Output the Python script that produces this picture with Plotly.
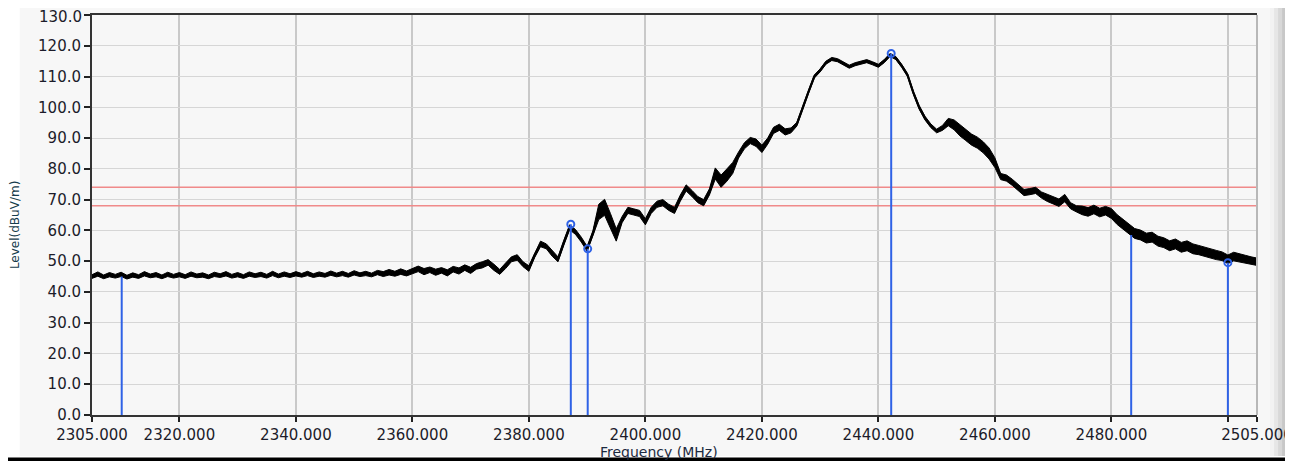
import plotly.graph_objects as go

# ---------------- data ----------------
freq_start = 2305
level = [
    45.0, 45.8, 44.9, 45.6, 45.1, 45.7, 44.8, 45.5, 45.0, 45.9,   # 2305-2314
    45.2, 45.6, 44.9, 45.7, 45.1, 45.6, 45.0, 45.8, 45.2, 45.5,   # 2315-2324
    44.9, 45.7, 45.3, 45.9, 45.1, 45.6, 45.0, 45.8, 45.3, 45.7,   # 2325-2334
    45.1, 46.0, 45.2, 45.8, 45.3, 45.9, 45.4, 46.0, 45.3, 45.8,   # 2335-2344
    45.4, 46.1, 45.5, 46.0, 45.4, 46.2, 45.6, 46.0, 45.5, 46.3,   # 2345-2354
    45.8, 46.4, 45.9, 46.6, 46.0, 46.8, 47.5, 46.6, 47.2, 46.4,   # 2355-2364
    47.0, 46.2, 47.4, 46.8, 47.9, 47.0, 48.3, 48.8, 49.6, 48.0,   # 2365-2374
    46.5, 48.5, 50.6, 51.2, 49.0, 47.6, 52.0, 55.6, 54.8, 52.5,   # 2375-2384
    50.6, 56.0, 61.0, 59.5, 57.0, 54.0, 59.0, 66.0, 67.5, 63.0,   # 2385-2394
    58.5, 63.5, 66.5, 66.0, 65.5, 62.8, 66.5, 68.5, 69.0, 67.5,   # 2395-2404
    66.5, 70.5, 73.8, 72.0, 70.0, 69.0, 72.5, 78.5, 76.0, 78.0,   # 2405-2414
    80.3, 84.5, 87.5, 89.2, 88.5, 86.5, 89.0, 92.5, 93.5, 92.0,   # 2415-2424
    92.5, 94.5, 100.0, 105.0, 110.0, 112.0, 114.5, 115.7, 115.3, 114.2,  # 2425-2434
    113.2, 114.0, 114.6, 115.0, 114.3, 113.5, 115.0, 117.0, 116.0, 113.5,  # 2435-2444
    110.5, 104.8, 100.0, 96.5, 94.0, 92.3, 93.3, 95.2, 94.3, 92.5,  # 2445-2454
    91.0, 89.5, 88.5, 87.0, 85.0, 82.0, 77.5, 77.0, 75.6, 74.0,   # 2455-2464
    72.3, 72.6, 73.0, 71.5, 70.6, 69.8, 69.0, 70.5, 68.0, 67.0,   # 2465-2474
    66.5, 66.0, 66.8, 65.8, 66.4, 65.5, 63.5, 62.0, 60.5, 59.0,   # 2475-2484
    58.5, 57.5, 57.8, 56.5, 56.0, 55.0, 55.6, 54.5, 55.0, 54.0,   # 2485-2494
    53.6, 53.0, 52.6, 52.0, 51.6, 50.6, 51.5, 51.0, 50.6, 50.2,   # 2495-2504
    49.8,                                                         # 2505
]
# half-width of the noise band (dB)
noise = [
    0.6, 0.7, 0.6, 0.7, 0.6, 0.7, 0.6, 0.7, 0.6, 0.7,   # 2305-2314
    0.6, 0.7, 0.6, 0.7, 0.6, 0.7, 0.6, 0.7, 0.6, 0.7,   # 2315-2324
    0.6, 0.7, 0.6, 0.7, 0.6, 0.7, 0.6, 0.7, 0.6, 0.7,   # 2325-2334
    0.6, 0.7, 0.6, 0.7, 0.6, 0.7, 0.6, 0.7, 0.6, 0.7,   # 2335-2344
    0.6, 0.7, 0.6, 0.7, 0.6, 0.7, 0.6, 0.7, 0.6, 0.7,   # 2345-2354
    0.8, 0.9, 0.8, 0.9, 0.8, 0.9, 0.9, 1.0, 0.9, 1.0,   # 2355-2364
    0.9, 1.0, 0.9, 1.0, 0.9, 1.0, 0.9, 1.0, 0.9, 1.0,   # 2365-2374
    0.8, 0.9, 0.8, 0.9, 0.8, 0.9, 0.8, 0.9, 0.8, 0.9,   # 2375-2384
    0.8, 0.8, 0.8, 0.8, 0.8, 0.8, 0.9, 2.5, 2.6, 2.5,   # 2385-2394
    2.0, 1.0, 1.0, 1.0, 1.0, 1.0, 1.0, 1.0, 1.0, 1.0,   # 2395-2404
    1.0, 1.0, 1.0, 1.0, 1.0, 1.0, 1.0, 1.8, 2.0, 2.0,   # 2405-2414
    1.8, 1.0, 1.0, 1.0, 1.2, 1.2, 1.0, 1.0, 1.0, 1.0,   # 2415-2424
    0.8, 0.6, 0.5, 0.5, 0.5, 0.5, 0.5, 0.5, 0.5, 0.5,   # 2425-2434
    0.5, 0.5, 0.5, 0.5, 0.5, 0.5, 0.5, 0.5, 0.5, 0.5,   # 2435-2444
    0.5, 0.5, 0.6, 0.6, 0.6, 0.6, 0.8, 1.2, 1.6, 1.8,   # 2445-2454
    1.8, 1.8, 1.8, 1.8, 1.8, 1.6, 1.0, 1.0, 1.0, 1.0,   # 2455-2464
    1.0, 1.0, 1.0, 1.0, 1.2, 1.2, 1.2, 1.2, 1.0, 1.0,   # 2465-2474
    1.4, 1.4, 1.4, 1.4, 1.4, 1.6, 1.6, 1.6, 1.6, 1.6,   # 2475-2484
    1.6, 1.6, 1.6, 1.6, 1.6, 1.6, 1.6, 1.6, 1.6, 1.6,   # 2485-2494
    1.5, 1.5, 1.5, 1.5, 1.4, 1.4, 1.4, 1.3, 1.3, 1.2,   # 2495-2504
    1.2,                                                # 2505
]
freq = [freq_start + i for i in range(len(level))]

marker_freq = [2310.1, 2387.2, 2390.1, 2442.2, 2483.4, 2500.0]
marker_level = [45.0, 62.0, 54.0, 117.5, 58.5, 49.5]
marker_circle = [False, True, True, True, False, True]

limit_levels = [74.0, 68.0]

x_tickvals = [2305, 2320, 2340, 2360, 2380, 2400, 2420, 2440, 2460, 2480, 2500, 2505]
x_ticktext = ["2305.000", "2320.000", "2340.000", "2360.000", "2380.000", "2400.000",
              "2420.000", "2440.000", "2460.000", "2480.000", "", "2505.000"]
y_tickvals = [0, 10, 20, 30, 40, 50, 60, 70, 80, 90, 100, 110, 120, 130]
y_ticktext = ["%.1f" % v for v in y_tickvals]

x_range = [2305, 2505]
y_range = [0, 130]

# ---------------- figure ----------------
fig = go.Figure()

for lv in limit_levels:
    fig.add_trace(go.Scatter(x=x_range, y=[lv, lv], mode="lines",
                             line=dict(color="#f08a8a", width=1.5),
                             hoverinfo="skip", showlegend=False))

upper = [l + n for l, n in zip(level, noise)]
lower = [l - n for l, n in zip(level, noise)]
fig.add_trace(go.Scatter(x=freq, y=lower, mode="lines",
                         line=dict(color="#000000", width=1),
                         hoverinfo="skip", showlegend=False))
fig.add_trace(go.Scatter(x=freq, y=upper, mode="lines", fill="tonexty",
                         fillcolor="#000000",
                         line=dict(color="#000000", width=1),
                         hoverinfo="skip", showlegend=False))
fig.add_trace(go.Scatter(x=freq, y=level, mode="lines",
                         line=dict(color="#000000", width=2.2),
                         showlegend=False))

for f, v, c in zip(marker_freq, marker_level, marker_circle):
    fig.add_trace(go.Scatter(x=[f, f], y=[0, v], mode="lines",
                             line=dict(color="#2f62e6", width=2),
                             hoverinfo="skip", showlegend=False))
    if c:
        fig.add_trace(go.Scatter(x=[f], y=[v], mode="markers",
                                 marker=dict(symbol="circle-open", size=7,
                                             color="#2f62e6",
                                             line=dict(color="#2f62e6", width=2)),
                                 showlegend=False))

tick_font = dict(family="DejaVu Sans", size=15, color="#1c1c2a")

# y tick labels: top one is drawn as an annotation (it sits at the figure edge)
y_axis_text = [t if v != y_range[1] else "" for v, t in zip(y_tickvals, y_ticktext)]

# page has an 8px body margin: figure is 1285x453, plot area 1165x400
shadow_cols = ["#f2f2f2", "#e6e6e6", "#d8d8d8", "#c8c8c8", "#b4b4b4", "#a0a0a0"]
shapes = [
    dict(type="rect", xref="paper", yref="paper", x0=-0.062, x1=1.0112, y0=-0.1025, y1=1.0225,
         fillcolor="#f7f7f7", line=dict(width=0), layer="below"),
    dict(type="line", xref="paper", yref="paper", x0=1, x1=1, y0=0, y1=1,
         line=dict(color="#b8b8b8", width=2)),
    dict(type="rect", xref="paper", yref="paper", x0=-0.08, x1=1.04, y0=-0.13, y1=-0.106,
         fillcolor="#000000", line=dict(width=0)),
]
w = 1165.0
for i, col in enumerate(shadow_cols):
    x0 = 1.0112 + i * 4 / w
    shapes.append(dict(type="rect", xref="paper", yref="paper", x0=x0, x1=x0 + 4 / w,
                       y0=-0.1025, y1=1.0225, fillcolor=col, line=dict(width=0), layer="below"))

fig.update_layout(
    width=1285, height=453,
    margin=dict(l=84, r=36, t=7, b=46, autoexpand=False),
    paper_bgcolor="#ffffff",
    plot_bgcolor="#fafafa",
    xaxis=dict(range=x_range, tickvals=x_tickvals, ticktext=x_ticktext,
               showgrid=True, gridcolor="#c9c9c9", gridwidth=1.6,
               ticks="outside", ticklen=5, tickwidth=1.5, tickcolor="#222",
               showline=True, linecolor="#333", linewidth=2, mirror=True,
               zeroline=False, tickfont=tick_font, automargin=False),
    yaxis=dict(range=y_range, tickvals=y_tickvals, ticktext=y_axis_text,
               showgrid=True, gridcolor="#d6d6d6", gridwidth=1.4,
               ticks="outside", ticklen=6, tickwidth=1.5, tickcolor="#222",
               showline=True, linecolor="#333", linewidth=2,
               zeroline=False, tickfont=tick_font, automargin=False),
    shapes=shapes,
    annotations=[
        dict(text=y_ticktext[-1], xref="paper", yref="y", x=0, y=y_tickvals[-1],
             xanchor="right", yanchor="middle", xshift=-8, yshift=-2, showarrow=False,
             font=tick_font),
        dict(text="Frequency (MHz)", xref="paper", yref="paper", x=0.487, y=-0.0925,
             xanchor="center", yanchor="middle", showarrow=False,
             font=dict(family="DejaVu Sans", size=14, color="#1c2a40")),
        dict(text="Level(dBuV/m)", xref="paper", yref="paper", x=-0.066, y=0.475,
             xanchor="center", yanchor="middle", textangle=-90, showarrow=False,
             font=dict(family="DejaVu Sans", size=12, color="#163c4c")),
    ],
)

fig.write_html("out.html")
